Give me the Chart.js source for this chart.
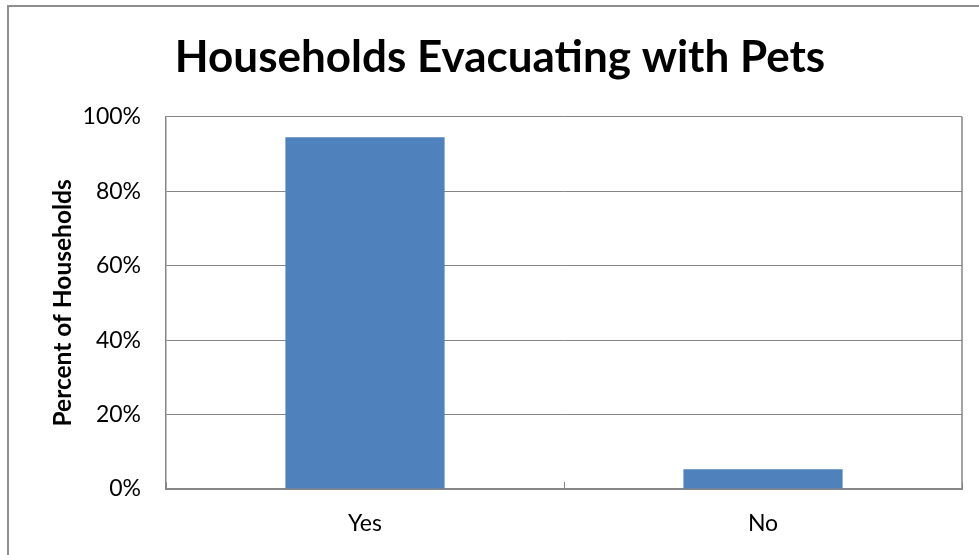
<!DOCTYPE html>
<html>
<head>
<meta charset="utf-8">
<script src="https://cdn.jsdelivr.net/npm/chart.js@4"></script>
<style>
  html, body { margin: 0; padding: 0; background: #fff; }
  #wrap { position: relative; width: 979px; height: 555px; overflow: hidden; }
  #frame {
    position: absolute; left: 7px; top: 5px; width: 990px; height: 570px;
    border-top: 2px solid #8e8e8e; border-left: 2px solid #8e8e8e;
    box-sizing: border-box; pointer-events: none;
  }
  canvas { position: absolute; left: 0; top: 0; }
</style>
</head>
<body>
<div id="wrap">
  <canvas id="chart" width="979" height="555"></canvas>
  <div id="frame"></div>
</div>
<script>
const categories = ["Yes", "No"];
const percentValues = [94.5, 5.3];
const yTicks = [0, 20, 40, 60, 80, 100];

const FONT = "Lato, 'Open Sans', sans-serif";
const GRID = "#868686";

// right edge of the plot area, like the Excel frame
const plotFrame = {
  id: "plotFrame",
  afterDraw(chart) {
    const { ctx, chartArea } = chart;
    ctx.save();
    ctx.strokeStyle = GRID;
    ctx.lineWidth = 1.5;
    ctx.beginPath();
    ctx.moveTo(chartArea.right, chartArea.top);
    ctx.lineTo(chartArea.right, chartArea.bottom);
    ctx.stroke();
    ctx.restore();
  },
};

new Chart(document.getElementById("chart").getContext("2d"), {
  type: "bar",
  data: {
    labels: categories,
    datasets: [
      {
        data: percentValues,
        backgroundColor: "#4F81BD",
        borderWidth: 0,
        barPercentage: 0.4,
        categoryPercentage: 1,
      },
    ],
  },
  plugins: [plotFrame],
  options: {
    responsive: false,
    animation: false,
    layout: { padding: { left: 38, right: 17, top: 0, bottom: 0 } },
    plugins: {
      legend: { display: false },
      tooltip: { enabled: false },
      title: {
        display: true,
        text: "Households Evacuating with Pets",
        color: "#000",
        font: { family: FONT, size: 44, weight: "bold" },
        padding: { top: 31, bottom: 33 },
      },
    },
    scales: {
      x: {
        grid: {
          drawOnChartArea: false,
          drawTicks: true,
          tickLength: -7,
          color: GRID,
          lineWidth: 1,
        },
        border: { color: GRID, width: 2 },
        ticks: {
          color: "#000",
          font: { family: FONT, size: 23 },
          padding: 28,
        },
        afterFit: (s) => { s.height = 66; },
      },
      y: {
        min: 0,
        max: 100,
        afterBuildTicks: (s) => { s.ticks = yTicks.map((v) => ({ value: v })); },
        grid: { color: GRID, lineWidth: 1, drawTicks: false },
        border: { color: GRID, width: 1.5 },
        ticks: {
          color: "#000",
          font: { family: FONT, size: 23 },
          padding: 25,
          callback: (v) => v + "%",
        },
        title: {
          display: true,
          text: "Percent of Households",
          color: "#000",
          font: { family: FONT, size: 24.5, weight: "bold" },
          padding: { top: 10, bottom: 0 },
        },
        afterFit: (s) => { s.width = 128; },
      },
    },
  },
});
</script>
</body>
</html>
